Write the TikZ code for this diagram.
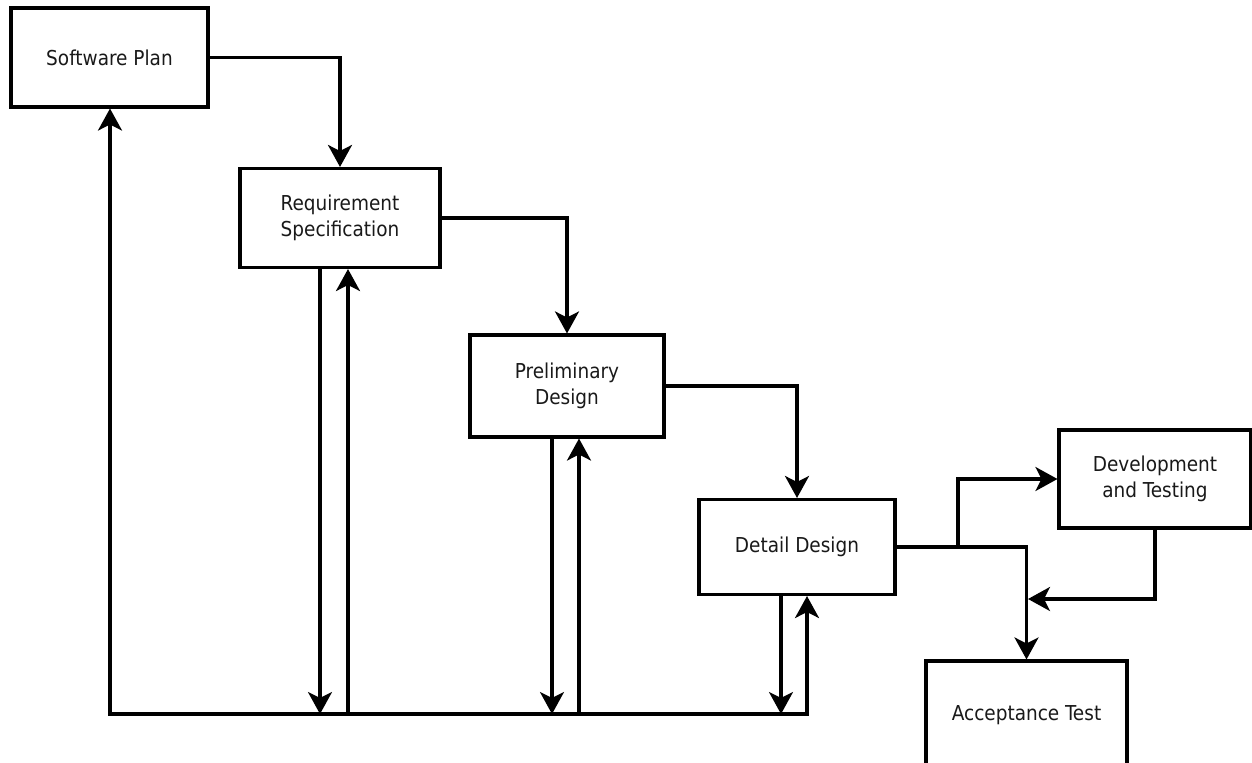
\documentclass[tikz,border=0pt]{standalone}
\usepackage{fontspec}
\setmainfont{DejaVu Sans Condensed}
\usetikzlibrary{arrows.meta}
\tikzset{
  box/.style={draw=black, line width=2.3pt, rectangle, inner sep=0pt, align=center,
    font=\fontsize{15.4}{19.5}\selectfont, text=black!90},
  conn/.style={draw=black, line width=2.3pt},
  arr/.style={conn, -{Stealth[length=16.5pt,width=18pt,inset=4.5pt]}}
}
\begin{document}
\begin{tikzpicture}[x=0.75pt,y=-0.75pt]
\useasboundingbox (0,0) rectangle (1252,763);
\node[box, minimum width=197*0.75pt, minimum height=99*0.75pt] (sp) at (109.5,57.5) {Software Plan};
\node[box, minimum width=200*0.75pt, minimum height=99*0.75pt] (req) at (340,218) {Requirement\\Specification};
\node[box, minimum width=194*0.75pt, minimum height=102*0.75pt] (pre) at (567,386) {Preliminary\\Design};
\node[box, minimum width=196*0.75pt, minimum height=95*0.75pt] (det) at (797,547) {Detail Design};
\node[box, minimum width=192*0.75pt, minimum height=98*0.75pt] (dev) at (1155,479) {Development\\and Testing};
\node[box, minimum width=201*0.75pt, minimum height=108*0.75pt] (acc) at (1026.5,715) {Acceptance Test};

\coordinate (bl) at (110,714);
\coordinate (r1) at (320,714);
\coordinate (r2) at (348,714);
\coordinate (p1) at (552,714);
\coordinate (p2) at (579,714);
\coordinate (d1) at (781,714);
\coordinate (d2) at (807,714);
\coordinate (br) at (958,547);
\coordinate (dj) at (1028,599);

% forward flow
\draw[arr] (sp.east) -| (req.north);
\draw[arr] (req.east) -| (pre.north);
\draw[arr] (pre.east) -| (det.north);
\draw[arr] (det.east) -| (acc.north);
\draw[arr] (br) |- (dev.west);
\draw[arr] (dev.south) |- (dj);

% feedback loop
\draw[arr] (d2) -- (bl) -- (bl |- sp.south);
\draw[arr] (bl) -- (d2) -- (det.south -| d2);
\draw[arr] (req.south -| r1) -- (r1);
\draw[arr] (r2) -- (req.south -| r2);
\draw[arr] (pre.south -| p1) -- (p1);
\draw[arr] (p2) -- (pre.south -| p2);
\draw[arr] (det.south -| d1) -- (d1);
\end{tikzpicture}
\end{document}
